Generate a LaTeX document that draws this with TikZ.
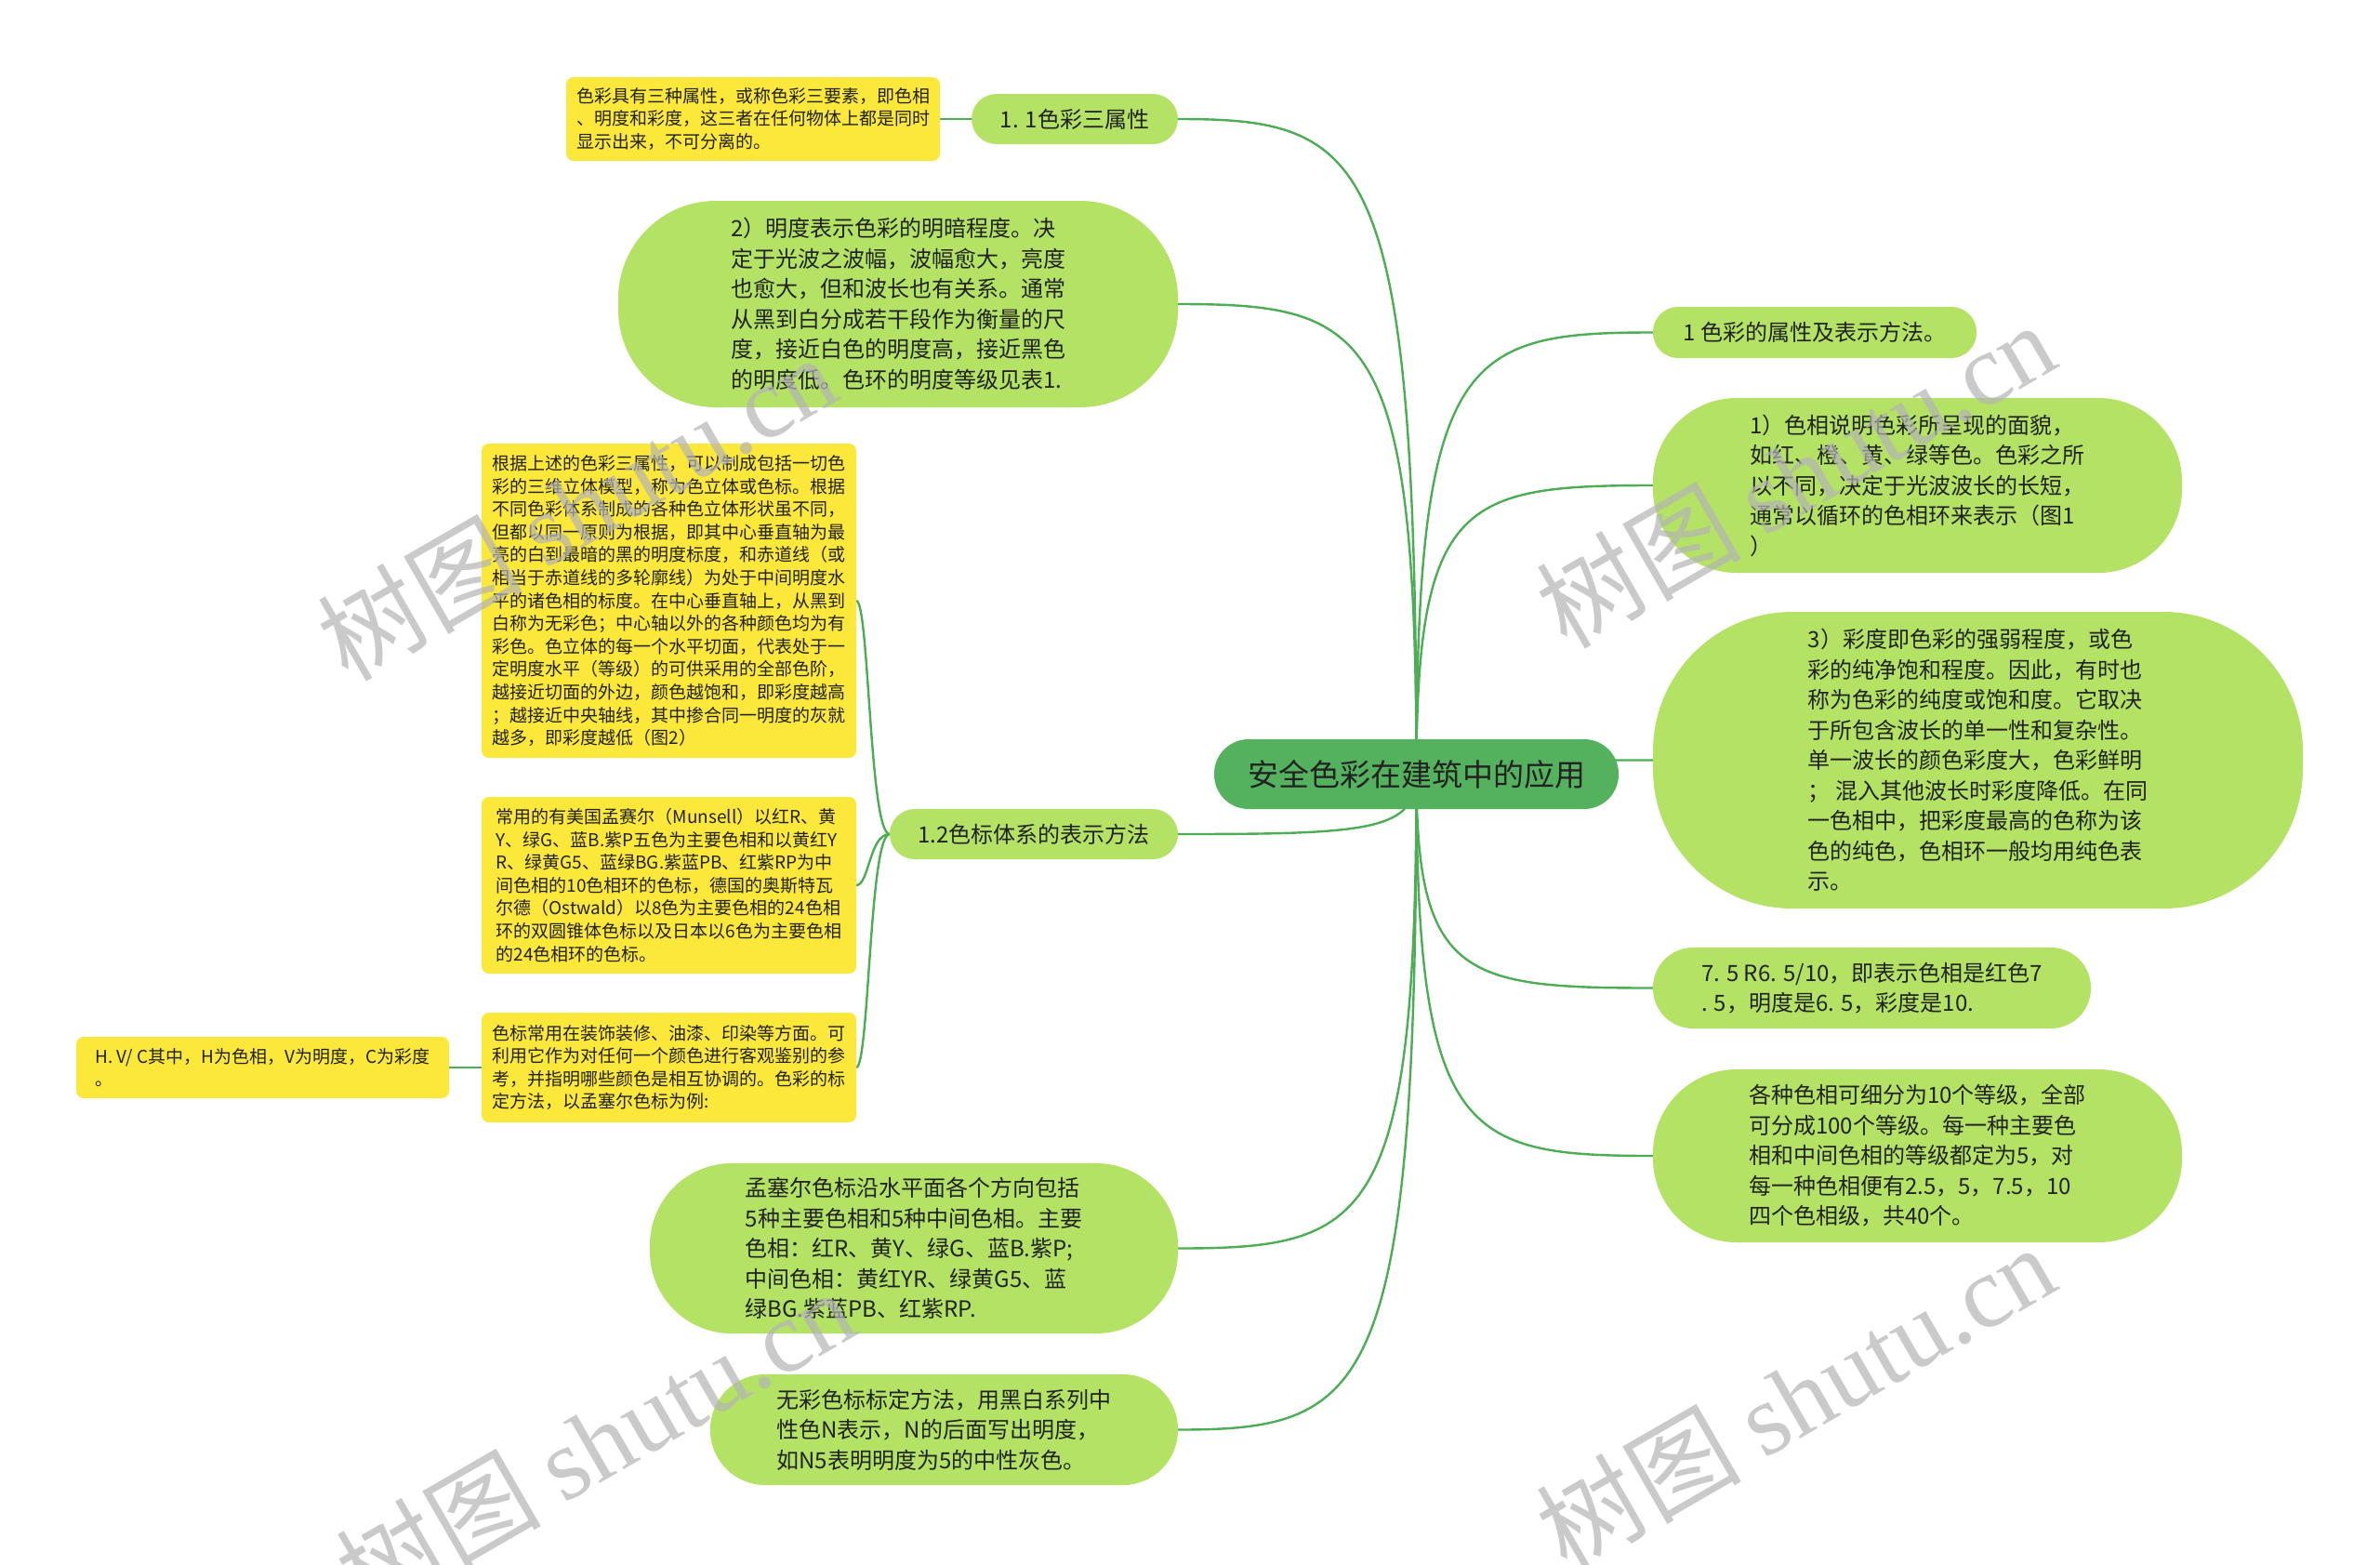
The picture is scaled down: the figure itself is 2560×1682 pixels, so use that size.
\documentclass[tikz,border=0pt]{standalone}
\usepackage{fontspec}
\setmainfont{Noto Sans CJK SC}
\newfontfamily\wmcjk{Noto Sans CJK SC}
\newfontfamily\wmlat{Liberation Serif}
\usetikzlibrary{calc,backgrounds}
\definecolor{gfill}{HTML}{B3E265}
\definecolor{yfill}{HTML}{FCE83A}
\definecolor{cfill}{HTML}{54B15E}
\definecolor{lcol}{HTML}{4CAD55}
\definecolor{tcol}{HTML}{222222}
\definecolor{wmcol}{HTML}{B4B4B4}
\tikzset{
  base/.style={inner sep=0pt, outer sep=0pt, text=tcol, align=left},
  gnode/.style={base, fill=gfill, font=\fontsize{24}{32.5}\selectfont},
  ynode/.style={base, fill=yfill, rounded corners=8pt, font=\fontsize{19}{24.6}\selectfont},
  cnode/.style={base, fill=cfill, rounded corners=37pt, font=\fontsize{33}{40}\selectfont},
  link/.style={draw=lcol, line width=2.4pt},
  wmark/.style={text=wmcol, text opacity=0.7, rotate=30, font=\fontsize{110}{120}\selectfont}
}
\newcommand\mmleft[1]{\draw[link] (c.center) .. controls ($(c.center |- #1.east)!0.05!(c.center)$) and ($(c.center |- #1.east)!0.2!(#1.east)$) .. (#1.east);}
\newcommand\mmright[1]{\draw[link] (c.center) .. controls ($(c.center |- #1.west)!0.05!(c.center)$) and ($(c.center |- #1.west)!0.2!(#1.west)$) .. (#1.west);}
\newcommand\mmsub[1]{\draw[link] (n12.west) .. controls ($(n12.west)+(-22,0)$) and ($(#1.east)+(14,0)$) .. (#1.east);}
\begin{document}
\begin{tikzpicture}[x=1pt,y=-1pt]
\useasboundingbox (0,0) rectangle (2560,1682);
% central
\node[cnode, minimum width=435pt, minimum height=75pt] (c) at (1523.5,832.5) {安全色彩在建筑中的应用};
% left side
\node[gnode, minimum width=222pt, minimum height=54pt, rounded corners=27pt] (n11) at (1156,128) {1. 1色彩三属性};
\node[ynode, minimum width=402pt, minimum height=90pt] (y1) at (810,128) {色彩具有三种属性，或称色彩三要素，即色相\\、明度和彩度，这三者在任何物体上都是同时\\显示出来，不可分离的。};
\node[gnode, minimum width=602pt, minimum height=222pt, rounded corners=105pt] (n2) at (966,327) {2）明度表示色彩的明暗程度。决\\定于光波之波幅，波幅愈大，亮度\\也愈大，但和波长也有关系。通常\\从黑到白分成若干段作为衡量的尺\\度，接近白色的明度高，接近黑色\\的明度低。色环的明度等级见表1.};
\node[gnode, minimum width=310pt, minimum height=54pt, rounded corners=27pt] (n12) at (1112,897) {1.2色标体系的表示方法};
\node[ynode, minimum width=403pt, minimum height=338pt] (yb) at (719.5,646) {根据上述的色彩三属性，可以制成包括一切色\\彩的三维立体模型，称为色立体或色标。根据\\不同色彩体系制成的各种色立体形状虽不同，\\但都以同一原则为根据，即其中心垂直轴为最\\亮的白到最暗的黑的明度标度，和赤道线（或\\相当于赤道线的多轮廓线）为处于中间明度水\\平的诸色相的标度。在中心垂直轴上，从黑到\\白称为无彩色；中心轴以外的各种颜色均为有\\彩色。色立体的每一个水平切面，代表处于一\\定明度水平（等级）的可供采用的全部色阶，\\越接近切面的外边，颜色越饱和，即彩度越高\\；越接近中央轴线，其中掺合同一明度的灰就\\越多，即彩度越低（图2）};
\node[ynode, minimum width=403pt, minimum height=190pt] (ym) at (719.5,952) {常用的有美国孟赛尔（Munsell）以红R、黄\\Y、绿G、蓝B.紫P五色为主要色相和以黄红Y\\R、绿黄G5、蓝绿BG.紫蓝PB、红紫RP为中\\间色相的10色相环的色标，德国的奥斯特瓦\\尔德（Ostwald）以8色为主要色相的24色相\\环的双圆锥体色标以及日本以6色为主要色相\\的24色相环的色标。};
\node[ynode, minimum width=403pt, minimum height=118pt] (ys) at (719.5,1148) {色标常用在装饰装修、油漆、印染等方面。可\\利用它作为对任何一个颜色进行客观鉴别的参\\考，并指明哪些颜色是相互协调的。色彩的标\\定方法，以孟塞尔色标为例:};
\node[ynode, minimum width=401pt, minimum height=66pt] (yh) at (282.5,1148) {H. V/ C其中，H为色相，V为明度，C为彩度\\。};
\node[gnode, minimum width=568pt, minimum height=183pt, rounded corners=88pt] (nm) at (983,1342.5) {孟塞尔色标沿水平面各个方向包括\\5种主要色相和5种中间色相。主要\\色相：红R、黄Y、绿G、蓝B.紫P;\\中间色相：黄红YR、绿黄G5、蓝\\绿BG.紫蓝PB、红紫RP.};
\node[gnode, minimum width=503pt, minimum height=119pt, rounded corners=59pt] (nw) at (1015.5,1537.5) {无彩色标标定方法，用黑白系列中\\性色N表示，N的后面写出明度，\\如N5表明明度为5的中性灰色。};
% right side
\node[gnode, minimum width=348pt, minimum height=55pt, rounded corners=27pt] (r1) at (1952,357.5) {1 色彩的属性及表示方法。};
\node[gnode, minimum width=569pt, minimum height=188pt, rounded corners=90pt] (r2) at (2062.5,522) {1）色相说明色彩所呈现的面貌，\\如红、橙、黄、绿等色。色彩之所\\以不同，决定于光波波长的长短，\\通常以循环的色相环来表示（图1\\）};
\node[gnode, minimum width=699pt, minimum height=319pt, rounded corners=150pt] (r3) at (2127.5,817.5) {3）彩度即色彩的强弱程度，或色\\彩的纯净饱和程度。因此，有时也\\称为色彩的纯度或饱和度。它取决\\于所包含波长的单一性和复杂性。\\单一波长的颜色彩度大，色彩鲜明\\； 混入其他波长时彩度降低。在同\\一色相中，把彩度最高的色称为该\\色的纯色，色相环一般均用纯色表\\示。};
\node[gnode, minimum width=471pt, minimum height=87pt, rounded corners=43pt] (r4) at (2013.5,1062.5) {7. 5 R6. 5/10，即表示色相是红色7\\. 5，明度是6. 5，彩度是10.};
\node[gnode, minimum width=569pt, minimum height=186pt, rounded corners=90pt] (r5) at (2062.5,1243) {各种色相可细分为10个等级，全部\\可分成100个等级。每一种主要色\\相和中间色相的等级都定为5，对\\每一种色相便有2.5，5，7.5，10\\四个色相级，共40个。};
% connectors
\begin{scope}[on background layer]
\fill[white] (0,0) rectangle (2560,1682);
\mmleft{n11}
\mmleft{n2}
\mmleft{n12}
\mmleft{nm}
\mmleft{nw}
\mmright{r1}
\mmright{r2}
\mmright{r3}
\mmright{r4}
\mmright{r5}
\mmsub{yb}
\mmsub{ym}
\mmsub{ys}
\draw[link] (n11.west) -- (y1.east);
\draw[link] (ys.west) -- (yh.east);
\end{scope}
% watermarks
\node[wmark] (w1) at (620,545) {\wmcjk 树图 \wmlat shutu.cn};
\node[wmark] (w2) at (1931,510) {\wmcjk 树图 \wmlat shutu.cn};
\node[wmark] (w3) at (640,1550) {\wmcjk 树图 \wmlat shutu.cn};
\node[wmark] (w4) at (1931,1502) {\wmcjk 树图 \wmlat shutu.cn};
\end{tikzpicture}
\end{document}
